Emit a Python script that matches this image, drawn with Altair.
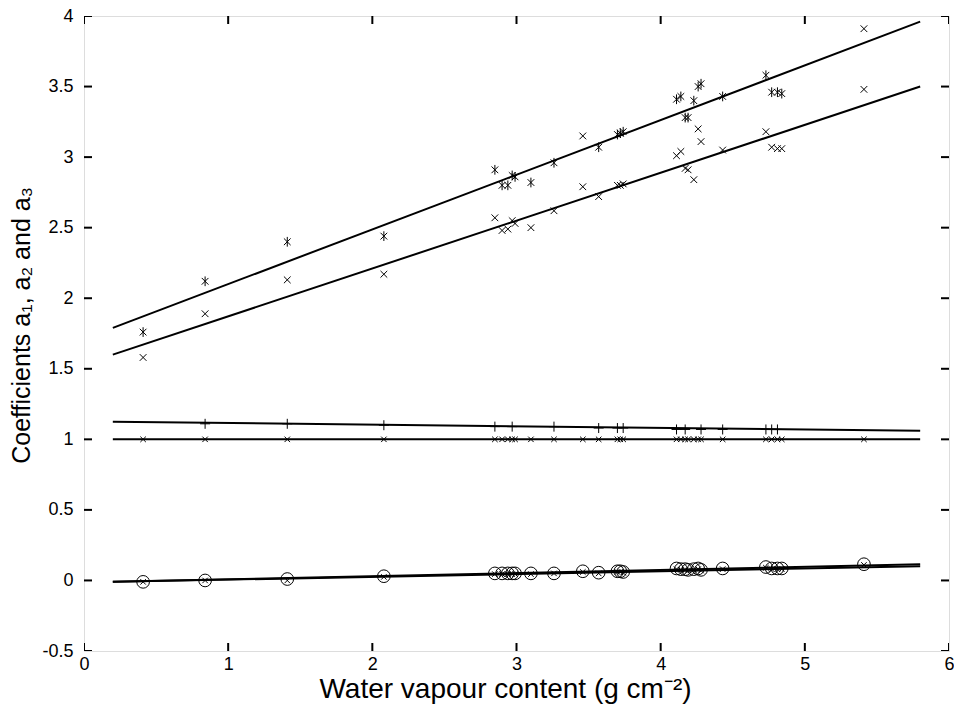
import altair as alt
import pandas as pd

# ---------------- data ----------------
# water vapour content of every sample (g cm-2)
wv = [0.41, 0.84, 1.41, 2.08, 2.85, 2.90, 2.94, 2.97, 2.99, 3.10, 3.26, 3.46, 3.57,
      3.70, 3.72, 3.74, 4.11, 4.14, 4.17, 4.19, 4.23, 4.26, 4.28, 4.43, 4.73, 4.77,
      4.81, 4.84, 5.41]

# a3, first case (upper band)
a3_up = [1.76, 2.12, 2.40, 2.44, 2.91, 2.80, 2.80, 2.87, 2.86, 2.82, 2.96, 3.15, 3.07,
         3.16, 3.17, 3.18, 3.41, 3.43, 3.28, 3.28, 3.40, 3.50, 3.52, 3.43, 3.58, 3.46,
         3.46, 3.45, 3.91]
# a3, second case (lower band)
a3_low = [1.58, 1.89, 2.13, 2.17, 2.57, 2.48, 2.49, 2.55, 2.53, 2.50, 2.62, 2.79, 2.72,
          2.80, 2.80, 2.81, 3.01, 3.04, 2.92, 2.91, 2.84, 3.20, 3.11, 3.05, 3.18, 3.07,
          3.06, 3.06, 3.48]
# a2, first case (plus markers) - only where visible
wv_plus = [0.84, 1.41, 2.08, 2.85, 2.97, 3.26, 3.57, 3.70, 3.74, 4.11, 4.17, 4.28,
           4.43, 4.73, 4.77, 4.81]
a2_plus = [1.11, 1.11, 1.10, 1.09, 1.09, 1.09, 1.08, 1.08, 1.08, 1.07, 1.07, 1.07,
           1.07, 1.07, 1.07, 1.07]
# a2, second case
a2_cross = [1.0, 1.0, 1.0, 1.0, 1.0, 1.0, 1.0, 1.0, 1.0, 1.0, 1.0, 1.0, 1.0, 1.0, 1.0,
            1.0, 1.0, 1.0, 1.0, 1.0, 1.0, 1.0, 1.0, 1.0, 1.0, 1.0, 1.0, 1.0, 1.0]
# a1, first case (circles)
a1_circle = [-0.01, 0.00, 0.01, 0.03, 0.05, 0.05, 0.05, 0.05, 0.05, 0.05, 0.05, 0.065,
             0.055, 0.065, 0.065, 0.06, 0.085, 0.08, 0.08, 0.075, 0.08, 0.085, 0.075,
             0.085, 0.095, 0.085, 0.085, 0.085, 0.115]
# a1, second case (crosses)
a1_cross = [-0.01, 0.00, 0.00, 0.025, 0.045, 0.045, 0.045, 0.045, 0.045, 0.045, 0.05,
            0.06, 0.05, 0.06, 0.06, 0.055, 0.08, 0.075, 0.075, 0.07, 0.075, 0.08, 0.07,
            0.08, 0.09, 0.08, 0.08, 0.08, 0.11]

# fitted straight lines (end points at x = 0.2 and 5.8)
fit_x = [0.2, 5.8]
fit_a3_up = [1.79, 3.96]
fit_a3_low = [1.60, 3.50]
fit_a2_plus = [1.125, 1.06]
fit_a2_cross = [1.0, 1.0]
fit_a1_circle = [-0.01, 0.115]
fit_a1_cross = [-0.01, 0.10]

x_ticks = [0, 1, 2, 3, 4, 5, 6]
y_ticks = [-0.5, 0, 0.5, 1, 1.5, 2, 2.5, 3, 3.5, 4]
x_dom = [0, 6]
y_dom = [-0.5, 4]

# ---------------- chart ----------------
FONT = "Liberation Sans"
xs = alt.Scale(domain=x_dom, nice=False, zero=False)
ys = alt.Scale(domain=y_dom, nice=False, zero=False)

x_axis = alt.Axis(
    values=x_ticks, labelExpr="toString(datum.value)", ticks=False, domain=False,
    grid=False, labelFlush=False, labelFont=FONT, labelFontSize=18, labelColor="black",
    labelPadding=4,
    title="Water vapour content (g cm⁻²)", titleFont=FONT, titleFontSize=28,
    titleFontWeight="normal", titleColor="black", titlePadding=2, titleX=421)
y_axis = alt.Axis(
    values=y_ticks, labelExpr="toString(datum.value)", ticks=False, domain=False,
    grid=False, labelFlush=False, labelFont=FONT, labelFontSize=18, labelColor="black",
    labelPadding=11,
    title="Coefficients a₁, a₂ and a₃", titleFont=FONT, titleFontSize=25,
    titleFontWeight="normal", titleColor="black", titlePadding=7, titleY=309)


def enc(chart):
    return chart.encode(
        x=alt.X("x:Q", scale=xs, axis=x_axis),
        y=alt.Y("y:Q", scale=ys, axis=y_axis))


X_SHAPE = "M-1,-1L1,1M1,-1L-1,1"
STAR_SHAPE = "M-1,-1L1,1M1,-1L-1,1M0,-1.45L0,1.45"
PLUS_SHAPE = "M-1,0L1,0M0,-1L0,1"


def pts(xv, yv, shape, size, sw=1.0):
    df = pd.DataFrame({"x": xv, "y": yv})
    return enc(alt.Chart(df).mark_point(shape=shape, size=size, filled=False,
                                        color="black", strokeWidth=sw, opacity=1))


def fit(yv):
    df = pd.DataFrame({"x": fit_x, "y": yv})
    return enc(alt.Chart(df).mark_line(color="black", strokeWidth=2))


# inward ticks on all four sides (clipped halves of centred ticks)
def tick_layer(xv, yv, orient):
    df = pd.DataFrame({"x": xv, "y": yv})
    return enc(alt.Chart(df).mark_tick(orient=orient, size=16, thickness=2,
                                       color="black", clip=True, opacity=1))


ticks = [
    tick_layer(x_ticks, [y_dom[0]] * len(x_ticks), "vertical"),
    tick_layer(x_ticks, [y_dom[1]] * len(x_ticks), "vertical"),
    tick_layer([x_dom[0]] * len(y_ticks), y_ticks, "horizontal"),
    tick_layer([x_dom[1]] * len(y_ticks), y_ticks, "horizontal"),
]

star_idx = [i for i, v in enumerate(wv) if v not in (3.46, 5.41)]
cross_idx = [i for i, v in enumerate(wv) if v in (3.46, 5.41)]

layers = ticks + [
    fit(fit_a3_up), fit(fit_a3_low), fit(fit_a2_plus), fit(fit_a2_cross),
    fit(fit_a1_circle), fit(fit_a1_cross),
    pts([wv[i] for i in star_idx], [a3_up[i] for i in star_idx], STAR_SHAPE, 45),
    pts([wv[i] for i in cross_idx], [a3_up[i] for i in cross_idx], X_SHAPE, 45),
    pts(wv, a3_low, X_SHAPE, 45),
    pts(wv_plus, a2_plus, PLUS_SHAPE, 100),
    pts(wv, a2_cross, X_SHAPE, 30),
    pts(wv, a1_circle, "circle", 160),
    pts(wv, a1_cross, X_SHAPE, 30),
]

chart = alt.layer(*layers).properties(
    width=865, height=635,
    autosize=alt.AutoSizeParams(type="none"),
    padding={"left": 76, "top": 8, "right": 5, "bottom": 56},
).configure_view(stroke="black", strokeWidth=2, fill="white").configure(
    background="white")

chart.save("out.html", embed_options={"renderer": "svg", "actions": False})
